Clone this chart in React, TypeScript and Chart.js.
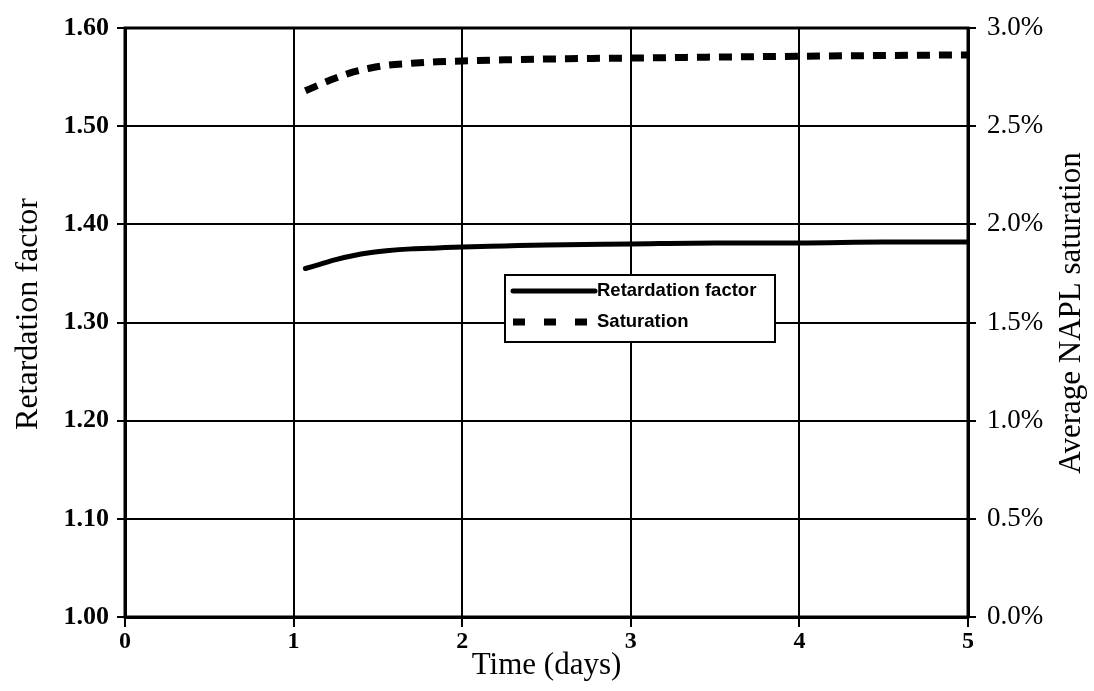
import React, { useEffect, useRef } from "react";
import { Chart, registerables } from "chart.js";

Chart.register(...registerables);

const timeDays = [1.07, 1.15, 1.25, 1.35, 1.45, 1.55, 1.7, 1.85, 2.0, 2.25, 2.5, 3.0, 3.5, 4.0, 4.5, 5.0];
const retardation = [1.355, 1.359, 1.364, 1.368, 1.371, 1.373, 1.375, 1.376, 1.377, 1.378, 1.379, 1.380, 1.381, 1.381, 1.382, 1.382];
const saturationPct = [2.68, 2.71, 2.745, 2.775, 2.795, 2.81, 2.82, 2.828, 2.832, 2.838, 2.842, 2.847, 2.852, 2.856, 2.86, 2.863];

const xTicks = [0, 1, 2, 3, 4, 5];
const leftTicks = [1.0, 1.1, 1.2, 1.3, 1.4, 1.5, 1.6];
const rightTicks = [0, 0.5, 1.0, 1.5, 2.0, 2.5, 3.0];

const seriesNames = ["Retardation factor", "Saturation"];
const xTitle = "Time (days)";
const leftTitle = "Retardation factor";
const rightTitle = "Average NAPL saturation";

const SERIF = "'Liberation Serif', 'DejaVu Serif', serif";
const SANS = "'Liberation Sans', Arial, sans-serif";

const overlayPlugin = {
  id: "overlay",
  afterDraw(chart: any) {
    const ctx = chart.ctx;
    const ca = chart.chartArea;
    ctx.save();
    // frame
    ctx.strokeStyle = "#000";
    ctx.lineWidth = 3;
    ctx.strokeRect(ca.left, ca.top, ca.right - ca.left, ca.bottom - ca.top);

    // rotated titles
    ctx.fillStyle = "#000";
    ctx.textAlign = "center";
    ctx.textBaseline = "middle";
    ctx.font = "32px " + SERIF;
    ctx.save();
    ctx.translate(29, 314);
    ctx.rotate(-Math.PI / 2);
    ctx.fillText(leftTitle, 0, 0);
    ctx.restore();
    ctx.font = "31px " + SERIF;
    ctx.save();
    ctx.translate(1072, 313);
    ctx.rotate(-Math.PI / 2);
    ctx.fillText(rightTitle, 0, 0);
    ctx.restore();

    // legend
    const bx = 505, by = 275, bw = 270, bh = 67;
    ctx.fillStyle = "#fff";
    ctx.fillRect(bx, by, bw, bh);
    ctx.strokeStyle = "#000";
    ctx.lineWidth = 2;
    ctx.strokeRect(bx, by, bw, bh);
    const ds = chart.data.datasets;
    const rows = [by + 16, by + 47];
    ds.forEach((d: any, i: number) => {
      ctx.save();
      ctx.strokeStyle = d.borderColor;
      ctx.lineWidth = i === 0 ? 5 : 7;
      ctx.lineCap = i === 0 ? "round" : "butt";
      ctx.setLineDash(i === 0 ? [] : [12, 19]);
      ctx.beginPath();
      ctx.moveTo(bx + 8, rows[i]);
      ctx.lineTo(bx + (i === 0 ? 90 : 82), rows[i]);
      ctx.stroke();
      ctx.restore();
      ctx.fillStyle = "#000";
      ctx.font = "bold 18.5px " + SANS;
      ctx.textAlign = "left";
      ctx.textBaseline = "middle";
      ctx.fillText(d.label, bx + 92, rows[i]);
    });
    ctx.restore();
  },
};

export default function App() {
  const ref = useRef<HTMLCanvasElement>(null);
  useEffect(() => {
    document.body.style.margin = "0";
    const canvas = ref.current!;
    const chart = new Chart(canvas, {
      type: "line",
      data: {
        datasets: [
          {
            label: seriesNames[0],
            data: timeDays.map((t, i) => ({ x: t, y: retardation[i] })),
            borderColor: "#000",
            borderWidth: 5,
            pointRadius: 0,
            cubicInterpolationMode: "monotone",
            yAxisID: "y",
            borderCapStyle: "round",
          },
          {
            label: seriesNames[1],
            data: timeDays.map((t, i) => ({ x: t, y: saturationPct[i] })),
            borderColor: "#000",
            borderWidth: 7,
            borderDash: [13, 9],
            pointRadius: 0,
            cubicInterpolationMode: "monotone",
            yAxisID: "y1",
          },
        ],
      },
      options: {
        responsive: false,
        animation: false,
        layout: { padding: { top: 28, left: 0, right: 0, bottom: 0 } },
        plugins: { legend: { display: false }, tooltip: { enabled: false } },
        scales: {
          x: {
            type: "linear",
            min: 0,
            max: 5,
            afterBuildTicks: (s: any) => {
              s.ticks = xTicks.map((v) => ({ value: v }));
            },
            afterFit: (s: any) => {
              s.height = 74;
            },
            ticks: {
              color: "#000",
              font: { family: SERIF, size: 24, weight: "bold" },
              padding: 0,
              maxRotation: 0,
              callback: (v: any) => String(v),
            },
            title: {
              display: true,
              text: xTitle,
              color: "#000",
              font: { family: SERIF, size: 31 },
              padding: { top: 0, bottom: 7 },
            },
            grid: { color: "#000", lineWidth: 2, tickLength: 10 },
            border: { color: "#000", width: 3 },
          },
          y: {
            position: "left",
            min: 1.0,
            max: 1.6,
            afterBuildTicks: (s: any) => {
              s.ticks = leftTicks.map((v) => ({ value: v }));
            },
            afterFit: (s: any) => {
              s.width = 125;
            },
            ticks: {
              color: "#000",
              font: { family: SERIF, size: 26, weight: "bold" },
              padding: 8,
              callback: (v: any) => Number(v).toFixed(2),
            },
            grid: { color: "#000", lineWidth: 2, tickLength: 8 },
            border: { color: "#000", width: 3 },
          },
          y1: {
            position: "right",
            min: 0,
            max: 3,
            afterBuildTicks: (s: any) => {
              s.ticks = rightTicks.map((v) => ({ value: v }));
            },
            afterFit: (s: any) => {
              s.width = 126;
            },
            ticks: {
              color: "#000",
              font: { family: SERIF, size: 27 },
              padding: 11,
              callback: (v: any) => Number(v).toFixed(1) + "%",
            },
            grid: { drawOnChartArea: false, color: "#000", lineWidth: 2, tickLength: 8 },
            border: { color: "#000", width: 3 },
          },
        },
      },
      plugins: [overlayPlugin],
    } as any);
    return () => chart.destroy();
  }, []);
  return (
    <div style={{ width: 1094, height: 691, background: "#fff" }}>
      <canvas ref={ref} width={1094} height={691} style={{ display: "block" }} />
    </div>
  );
}
